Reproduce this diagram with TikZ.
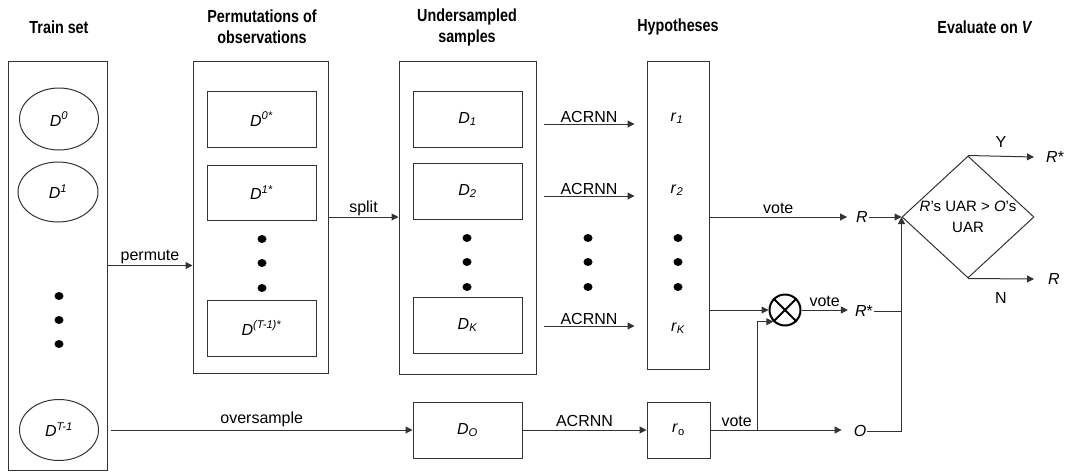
\documentclass[tikz,border=0pt]{standalone}
\usepackage{fontspec}
\setmainfont{Liberation Sans}
\newfontfamily\headfont[FakeStretch=0.82]{Liberation Sans}
\usetikzlibrary{shapes.geometric,arrows.meta}

% italic symbols with raised / lowered indices
\newcommand\var[1]{\textit{#1}}
\newcommand\up[1]{\textsuperscript{\itshape #1}}
\newcommand\dn[1]{\textsubscript{\itshape #1}}

\begin{document}
\begin{tikzpicture}[x=1pt,y=-1pt,
  line/.style={draw=black!80, line width=1pt},
  arr/.style={line, -{Triangle[length=7pt,width=7pt]}},
  lab/.style={font=\fontsize{16}{19}\selectfont, inner sep=1pt},
  frame/.style={line, rectangle, inner sep=0pt, font=\fontsize{16}{19}\selectfont},
  oval/.style={line, ellipse, inner sep=0pt, font=\fontsize{16}{19}\selectfont},
  blob/.style={fill=black, ellipse, minimum width=9pt, minimum height=8pt, inner sep=0pt},
  head/.style={font=\headfont\bfseries\fontsize{17.5}{21}\selectfont, align=center, inner sep=0pt},
]
\useasboundingbox (0,0) rectangle (1068,472);

% column headings
\node[head] (h1) at (59,27)  {Train set};
\node[head] (h2) at (262,27) {Permutations of\\observations};
\node[head] (h3) at (467,27) {Undersampled\\samples};
\node[head] (h4) at (678,27) {Hypotheses};
\node[head] (h5) at (985,27) {Evaluate on \textit{V}};

% train set
\node[frame, minimum width=99pt, minimum height=409pt] (train) at (57.5,265.5) {};
\node[oval, minimum width=79pt, minimum height=62pt] (e0) at (59,119) {\var{D}\up{0}};
\node[oval, minimum width=80pt, minimum height=60pt] (e1) at (58,192) {\var{D}\up{1}};
\node[oval, minimum width=79pt, minimum height=61pt] (eT) at (59,430) {\var{D}\up{T-1}};
\node[blob] (td1) at (59,296) {};
\node[blob] (td2) at (59,320) {};
\node[blob] (td3) at (59,344) {};

% permutations
\node[frame, minimum width=135pt, minimum height=312pt] (perm) at (260.5,217) {};
\node[frame, minimum width=109pt, minimum height=56pt] (p0) at (261.5,119) {\var{D}\up{0*}};
\node[frame, minimum width=109pt, minimum height=55pt] (p1) at (261.5,192.5) {\var{D}\up{1*}};
\node[frame, minimum width=109pt, minimum height=56pt] (pT) at (261.5,328) {\var{D}\up{(T-1)*}};
\node[blob] (pd1) at (262,239) {};
\node[blob] (pd2) at (262,263) {};
\node[blob] (pd3) at (262,288) {};

% undersampled samples
\node[frame, minimum width=137pt, minimum height=313pt] (under) at (467.5,217.5) {};
\node[frame, minimum width=109pt, minimum height=56pt] (u1) at (467.5,119) {\var{D}\dn{1}};
\node[frame, minimum width=109pt, minimum height=56pt] (u2) at (467.5,191) {\var{D}\dn{2}};
\node[frame, minimum width=109pt, minimum height=56pt] (uK) at (467.5,325) {\var{D}\dn{K}};
\node[blob] (ud1) at (467,238) {};
\node[blob] (ud2) at (467,262) {};
\node[blob] (ud3) at (467,287) {};

% oversampled branch
\node[frame, minimum width=109pt, minimum height=56pt] (dO) at (467.5,430) {\var{D}\dn{O}};
\node[frame, minimum width=63pt, minimum height=56pt] (ro) at (678.5,430) {\var{r}\textsubscript{o}};

% hypotheses
\node[frame, minimum width=62pt, minimum height=308pt] (hyp) at (678,215) {};
\node[lab] (r1) at (677,118) {\var{r}\dn{1}};
\node[lab] (r2) at (677,190) {\var{r}\dn{2}};
\node[lab] (rK) at (678,328) {\var{r}\dn{K}};
\node[blob] (hd1) at (678,238) {};
\node[blob] (hd2) at (678,262) {};
\node[blob] (hd3) at (678,287) {};
\node[blob] (md1) at (588,238) {};
\node[blob] (md2) at (588,262) {};
\node[blob] (md3) at (588,287) {};

% flow between the columns
\draw[arr] (train.east) -- (perm.west |- train.east)
  node[lab, midway, above] (lperm) {permute};
\draw[arr] (perm.east) -- (under.west |- perm.east)
  node[lab, midway, above] (lsplit) {split};
\draw[arr] ([xshift=12pt]eT.east) -- (dO.west)
  node[lab, midway, above=2pt] (lover) {oversample};
\draw[arr] ([shift={(21,5)}]u1.east) -- +(91,0)
  node[lab, midway, above] (la1) {ACRNN};
\draw[arr] ([shift={(21,5)}]u2.east) -- +(91,0)
  node[lab, midway, above] (la2) {ACRNN};
\draw[arr] ([shift={(21,1)}]uK.east) -- +(91,0)
  node[lab, midway, above] (la3) {ACRNN};
\draw[arr] (dO.east) -- (ro.west)
  node[lab, midway, above=2pt] (la4) {ACRNN};

% voting and evaluation
\node[line, diamond, minimum width=132pt, minimum height=122pt, inner sep=0pt] (cond) at (968,217) {};
\node[lab, align=center, font=\fontsize{15}{21}\selectfont] (ctext) at (968,217)
  {\var{R}'s UAR > \var{O}'s\\UAR};
\node[lab] (R) at (862,217) {\var{R}};
\node[lab] (Rmid) at (864,311) {\var{R}*};
\node[lab] (O) at (860,431) {\var{O}};
\node[lab, anchor=west, inner sep=0pt] (Rtop) at (1046,157) {\var{R}*};
\node[lab, anchor=west, inner sep=0pt] (Rbot) at (1048,279) {\var{R}};
\node[circle, draw=black, line width=2pt, minimum size=31pt, inner sep=0pt] (mul) at (785,310) {};
\draw[line width=2pt] (mul.north west) -- (mul.south east)
                      (mul.north east) -- (mul.south west);

\draw[arr] (hyp.east |- R.west) -- ([xshift=-8pt]R.west)
  node[lab, midway, above=2pt] (lv1) {vote};
\draw[arr] (hyp.east |- mul.west) -- (mul.west);
\draw[arr] (mul.east) -- ([xshift=-6pt]Rmid.west |- mul.east)
  node[lab, midway, above=2pt] (lv2) {vote};
\draw[arr] (ro.east) -- ([xshift=-11pt]O.west |- ro.east)
  node[lab, pos=0.2, above=2pt] (lv3) {vote};
\path (ro.east) ++(47,0) coordinate (br);
\draw[arr] (br) |- (mul.south west);
\draw[arr] (R.east) -- (cond.west);
\draw[arr] (O.east) -| (cond.west);
\draw[line] (Rmid.east) -- (Rmid.east -| cond.west);
\draw[arr] (cond.north) -- ([xshift=-12pt]Rtop.west)
  node[lab, midway, above=7pt] (lyes) {Y};
\draw[arr] (cond.south) -- ([xshift=-14pt]Rbot.west)
  node[lab, midway, below=12pt] (lno) {N};
\end{tikzpicture}
\end{document}
